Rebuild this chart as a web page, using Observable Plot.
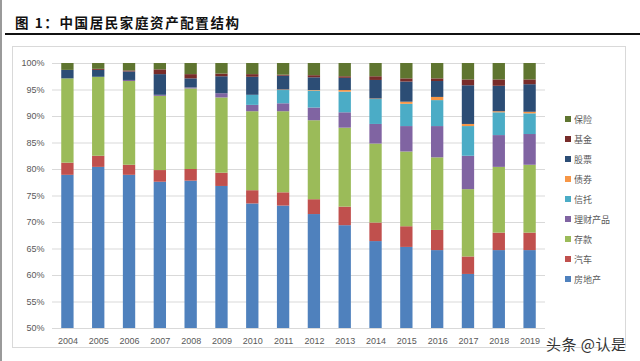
<!DOCTYPE html>
<html><head><meta charset="utf-8">
<script src="https://cdn.jsdelivr.net/npm/d3@7"></script>
<script src="https://cdn.jsdelivr.net/npm/@observablehq/plot@0.6"></script>
<style>
body{margin:0;background:#fff;}
#wrap{position:relative;width:640px;height:361px;overflow:hidden;background:#fff;font-family:"Noto Sans CJK SC",sans-serif;}
#pageline{position:absolute;left:0;top:0;width:2px;height:361px;background:#9a9a9a;}
#title{position:absolute;left:15px;top:12px;font-size:13.5px;font-weight:bold;letter-spacing:1.6px;color:#111;white-space:nowrap;}
#rule{position:absolute;left:5px;top:33px;width:640px;height:2px;background:#111;}
#box{position:absolute;left:12px;top:46px;width:612px;height:300px;border:1px solid #d9d9d9;}
#chart{position:absolute;left:0;top:0;}
#legend{position:absolute;left:565px;top:0;font-size:9px;color:#595959;}
.li{position:absolute;left:0;white-space:nowrap;height:12px;line-height:12px;}
.sw{display:inline-block;width:6px;height:6px;margin-right:3px;vertical-align:1px;}
#wm{position:absolute;left:546px;top:333px;font-size:15px;color:#333;white-space:nowrap;letter-spacing:0.5px;text-shadow:0 0 2px #fff,0 0 2px #fff;}
</style></head><body>
<div id="wrap">
<div id="pageline"></div>
<div id="title">图 1：中国居民家庭资产配置结构</div>
<div id="rule"></div>
<div id="box"></div>
<div id="chart"></div>
<div id="legend"></div>
<div id="wm">头条 @认是</div>
</div>
<script>
const years = ["2004","2005","2006","2007","2008","2009","2010","2011","2012","2013","2014","2015","2016","2017","2018","2019"];
const realEstate = [78.9,80.4,78.9,77.6,77.8,76.8,73.5,73.1,71.5,69.4,66.4,65.3,64.7,60.2,64.7,64.7];
const car        = [2.3,2.1,1.9,2.2,2.2,2.5,2.5,2.5,2.8,3.5,3.5,3.9,3.8,3.3,3.3,3.3];
const deposit    = [15.9,14.9,15.8,14.0,15.2,14.2,14.9,15.3,14.9,14.9,14.9,14.1,13.7,12.7,12.4,12.8];
const wealth     = [0,0,0.2,0.2,0.2,0.8,1.2,1.5,2.4,2.9,3.7,4.8,5.9,6.3,6.0,5.8];
const trust      = [0,0,0,0,0,0,1.9,2.5,3.2,3.9,4.7,4.2,4.9,5.6,4.3,3.9];
const bond       = [0,0,0,0,0,0,0,0.1,0.1,0.3,0.1,0.4,0.6,0.4,0.2,0.3];
const stock      = [1.6,1.3,1.6,3.9,1.7,3.2,3.4,2.6,2.4,2.3,3.5,3.8,3.0,7.3,4.8,5.2];
const fund       = [0,0.2,0.2,0.9,0.8,0.5,0.5,0.2,0.4,0.3,0.7,0.6,0.5,1.1,1.2,0.9];
const insurance  = [1.3,1.1,1.4,1.2,2.1,2.0,2.1,2.2,2.3,2.5,2.5,2.9,2.9,3.1,3.1,3.1];
const seriesNames = ["房地产","汽车","存款","理财产品","信托","债券","股票","基金","保险"];
const seriesValues = [realEstate,car,deposit,wealth,trust,bond,stock,fund,insurance];
const seriesColors = ["#4F81BD","#C0504D","#9BBB59","#8064A2","#4BACC6","#F79646","#2C4D75","#772C2A","#5F7530"];
const yTicks = [50,55,60,65,70,75,80,85,90,95,100];

const rows = [];
seriesNames.forEach((s,i)=>years.forEach((y,j)=>rows.push({year:y, series:s, value:seriesValues[i][j]})));

const chart = Plot.plot({
  width:640, height:361,
  marginLeft:52, marginRight:95, marginTop:63, marginBottom:33,
  style:{background:"transparent", fontFamily:"'Liberation Sans', Arial, sans-serif", fontSize:"9px", color:"#595959"},
  x:{domain:years, paddingInner:0.6, paddingOuter:0.3, round:false, label:null},
  y:{domain:[50,100], clamp:true, label:null},
  color:{domain:seriesNames, range:seriesColors},
  marks:[
    Plot.ruleY(yTicks,{stroke:"#d9d9d9", strokeWidth:1}),
    Plot.barY(rows, Plot.stackY({x:"year", y:"value", fill:"series", order:seriesNames})),
    Plot.axisX({tickSize:0, tickPadding:9, fill:"#595959", label:null}),
    Plot.axisY({ticks:yTicks, tickSize:0, tickPadding:8, tickFormat:d=>d+"%", fill:"#595959", label:null})
  ]
});
document.getElementById("chart").appendChild(chart);

const legend = document.getElementById("legend");
seriesNames.slice().reverse().forEach((s,k)=>{
  const i = seriesNames.indexOf(s);
  const d = document.createElement("div");
  d.className="li";
  d.style.top = (114 + k*20) + "px";
  d.innerHTML = `<span class="sw" style="background:${seriesColors[i]}"></span>${s}`;
  legend.appendChild(d);
});
</script>
</body></html>
